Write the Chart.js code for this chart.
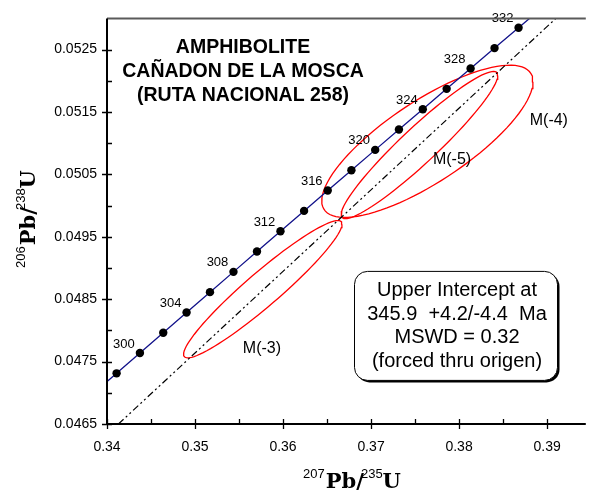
<!DOCTYPE html>
<html>
<head>
<meta charset="utf-8">
<script src="https://cdn.jsdelivr.net/npm/chart.js@4.4.0/dist/chart.umd.min.js"></script>
<style>
html, body { margin: 0; padding: 0; background: #fff; }
#wrap { width: 590px; height: 492px; }
</style>
</head>
<body>
<div id="wrap"><canvas id="concordia-chart" width="590" height="492"></canvas></div>
<script>
// 谐和曲线上的年龄点 (Ma)
const concordiaAges = [298, 300, 302, 304, 306, 308, 310, 312, 314, 316, 318, 320, 322, 324, 326, 328, 330, 332];
const concordiaX = [0.34109, 0.34374, 0.34639, 0.34904, 0.35170, 0.35437, 0.35704, 0.35971, 0.36239,
                    0.36508, 0.36777, 0.37047, 0.37317, 0.37588, 0.37859, 0.38131, 0.38403, 0.38676];
const concordiaY = [0.047312, 0.047637, 0.047963, 0.048288, 0.048613, 0.048938, 0.049264, 0.049589, 0.049915,
                    0.050241, 0.050567, 0.050893, 0.051219, 0.051545, 0.051871, 0.052198, 0.052524, 0.052851];
// 曲线两端 (296 Ma, 334 Ma)，只画线
const concordiaStart = [0.33845, 0.046988];
const concordiaEnd = [0.38950, 0.053178];
// 标注年龄
const labelAges = [300, 304, 308, 312, 316, 320, 324, 328, 332];

// 不一致线（过原点）
const discordiaX = [0.3413, 0.3910];
const discordiaY = [0.0465, 0.0530];

// 误差椭圆: 中心, 2σ, 相关系数
const ellipseNames = ['M(-3)', 'M(-4)', 'M(-5)'];
const ellipseX = [0.3577, 0.3764, 0.3755];
const ellipseSX = [0.0090, 0.0120, 0.0089];
const ellipseY = [0.04866, 0.05103, 0.05097];
const ellipseSY = [0.00110, 0.00122, 0.00118];
const ellipseRho = [0.947, 0.782, 0.945];
const ellipseLabelX = [0.3576, 0.3902, 0.3792];
const ellipseLabelY = [0.04771, 0.05137, 0.05074];

// 坐标轴
const xMin = 0.34, xMax = 0.3944;
const yMin = 0.0465, yMax = 0.0530;
const xTicks = [0.34, 0.35, 0.36, 0.37, 0.38, 0.39];
const xTickLabels = ['0.34', '0.35', '0.36', '0.37', '0.38', '0.39'];
const xMinorTicks = [0.345, 0.355, 0.365, 0.375, 0.385];
const yTicks = [0.0465, 0.0475, 0.0485, 0.0495, 0.0505, 0.0515, 0.0525];
const yTickLabels = ['0.0465', '0.0475', '0.0485', '0.0495', '0.0505', '0.0515', '0.0525'];
const yMinorTicks = [0.047, 0.048, 0.049, 0.050, 0.051, 0.052];

// 文字
const titleLines = ['AMPHIBOLITE', 'CAÑADON DE LA MOSCA', '(RUTA NACIONAL 258)'];
const boxLines = ['Upper Intercept at', '345.9  +4.2/-4.4  Ma', 'MSWD = 0.32', '(forced thru origen)'];

const SANS = '"Liberation Sans", Arial, Helvetica, sans-serif';
const SLAB = '"DejaVu Serif", "Courier New", serif';

// 椭圆轮廓点
function buildEllipse(i) {
    const pts = [];
    const n = 96;
    const k = Math.sqrt(1 - ellipseRho[i] * ellipseRho[i]);
    for (let j = 0; j <= n; j++) {
        const t = 2 * Math.PI * j / n;
        pts.push({
            x: ellipseX[i] + ellipseSX[i] * Math.cos(t),
            y: ellipseY[i] + ellipseSY[i] * (ellipseRho[i] * Math.cos(t) + k * Math.sin(t))
        });
    }
    return pts;
}

// 画上下标的轴标题
function drawAxisTitle(ctx, parts, x, y) {
    let w = 0;
    parts.forEach(p => { ctx.font = p.font; w += ctx.measureText(p.text).width + (p.dx || 0); });
    let cx = x - w / 2;
    parts.forEach(p => {
        ctx.font = p.font;
        ctx.fillText(p.text, cx, y + (p.dy || 0));
        cx += ctx.measureText(p.text).width + (p.dx || 0);
    });
}

function titleParts(a, b) {
    return [
        { text: a, font: '13px ' + SANS, dy: -10, dx: 1 },
        { text: 'Pb', font: 'bold 21px ' + SLAB, dx: 0 },
        { text: '/', font: 'bold 21px ' + SLAB, dx: -3 },
        { text: b, font: '13px ' + SANS, dy: -10 },
        { text: 'U', font: 'bold 21px ' + SLAB }
    ];
}

// 注释、边框、刻度
const decorPlugin = {
    id: 'decor',
    afterDraw(chart) {
        const ctx = chart.ctx;
        const xs = chart.scales.x, ys = chart.scales.y;
        const area = chart.chartArea;
        ctx.save();
        ctx.fillStyle = '#000';
        ctx.textAlign = 'center';
        ctx.textBaseline = 'middle';

        // 年龄标注
        ctx.font = '13px ' + SANS;
        labelAges.forEach(age => {
            const i = concordiaAges.indexOf(age);
            const px = xs.getPixelForValue(concordiaX[i]);
            const py = ys.getPixelForValue(concordiaY[i]);
            ctx.fillText(String(age), px - 16, py - 9);
        });

        // 椭圆名称
        ctx.font = '16px ' + SANS;
        ellipseNames.forEach((name, i) => {
            ctx.fillText(name, xs.getPixelForValue(ellipseLabelX[i]), ys.getPixelForValue(ellipseLabelY[i]));
        });

        // 标题
        ctx.font = 'bold 19.5px ' + SANS;
        titleLines.forEach((t, i) => {
            ctx.fillText(t, area.left + 136, area.top + 29 + i * 24);
        });

        // 结果框
        const bx = area.left + 247.5, by = area.top + 253, bw = 203, bh = 109, r = 13;
        ctx.fillStyle = '#000';
        ctx.beginPath();
        ctx.roundRect(bx + 2, by + 2, bw, bh, r);
        ctx.fill();
        ctx.fillStyle = '#fff';
        ctx.strokeStyle = '#000';
        ctx.lineWidth = 1;
        ctx.beginPath();
        ctx.roundRect(bx, by, bw, bh, r);
        ctx.fill();
        ctx.stroke();
        ctx.fillStyle = '#000';
        ctx.font = '20px ' + SANS;
        boxLines.forEach((t, i) => {
            ctx.fillText(t, bx + bw / 2 + 1, by + 19 + i * 23.7);
        });

        // 上边框
        ctx.strokeStyle = '#5a5a5a';
        ctx.lineWidth = 2;
        ctx.beginPath();
        ctx.moveTo(area.left, area.top);
        ctx.lineTo(area.right, area.top);
        ctx.stroke();

        // 坐标轴线
        ctx.strokeStyle = '#000';
        ctx.beginPath();
        ctx.moveTo(area.left, area.top);
        ctx.lineTo(area.left, area.bottom);
        ctx.lineTo(area.right, area.bottom);
        ctx.stroke();

        // 刻度线
        ctx.lineWidth = 1.3;
        ctx.beginPath();
        xTicks.forEach(v => {
            const px = Math.round(xs.getPixelForValue(v)) + 0.5;
            ctx.moveTo(px, area.bottom - 5);
            ctx.lineTo(px, area.bottom + 5);
        });
        xMinorTicks.forEach(v => {
            const px = Math.round(xs.getPixelForValue(v)) + 0.5;
            ctx.moveTo(px, area.bottom - 5);
            ctx.lineTo(px, area.bottom);
        });
        yTicks.forEach(v => {
            const py = Math.round(ys.getPixelForValue(v)) + 0.5;
            ctx.moveTo(area.left - 5, py);
            ctx.lineTo(area.left + 5, py);
        });
        yMinorTicks.forEach(v => {
            const py = Math.round(ys.getPixelForValue(v)) + 0.5;
            ctx.moveTo(area.left, py);
            ctx.lineTo(area.left + 5, py);
        });
        ctx.stroke();

        // 轴标题
        ctx.textAlign = 'left';
        ctx.textBaseline = 'alphabetic';
        drawAxisTitle(ctx, titleParts('207', '235'), 352, 488);
        ctx.translate(35, 219);
        ctx.rotate(-Math.PI / 2);
        drawAxisTitle(ctx, titleParts('206', '238'), 0, 0);
        ctx.restore();
    }
};

// 初始化图表
function initChart() {
    const ellipseSets = ellipseNames.map((name, i) => ({
        label: name,
        data: buildEllipse(i),
        showLine: true,
        borderColor: '#ff0000',
        borderWidth: 1.3,
        pointRadius: 0,
        tension: 0,
        order: 4
    }));

    const concordiaLine = [{ x: concordiaStart[0], y: concordiaStart[1] }]
        .concat(concordiaX.map((x, i) => ({ x: x, y: concordiaY[i] })))
        .concat([{ x: concordiaEnd[0], y: concordiaEnd[1] }]);

    const ctx = document.getElementById('concordia-chart').getContext('2d');
    new Chart(ctx, {
        type: 'scatter',
        data: {
            datasets: ellipseSets.concat([
                {
                    label: 'discordia',
                    data: discordiaX.map((x, i) => ({ x: x, y: discordiaY[i] })),
                    showLine: true,
                    borderColor: '#000',
                    borderWidth: 1.2,
                    borderDash: [7, 3, 2, 3, 2, 3],
                    pointRadius: 0,
                    order: 3
                },
                {
                    label: 'concordia',
                    data: concordiaLine,
                    showLine: true,
                    borderColor: '#12128a',
                    borderWidth: 1.3,
                    pointRadius: 0,
                    tension: 0,
                    order: 2
                },
                {
                    label: 'ages',
                    data: concordiaX.map((x, i) => ({ x: x, y: concordiaY[i] })),
                    showLine: false,
                    pointRadius: 4.2,
                    pointBackgroundColor: '#000',
                    pointBorderColor: '#000',
                    pointBorderWidth: 0,
                    order: 1
                }
            ])
        },
        options: {
            responsive: false,
            animation: false,
            layout: { padding: { top: 12, right: 0, left: 0, bottom: 0 } },
            plugins: {
                legend: { display: false },
                tooltip: { enabled: false }
            },
            scales: {
                x: {
                    type: 'linear',
                    min: xMin,
                    max: xMax,
                    grid: { display: false, drawTicks: false },
                    border: { display: false },
                    afterBuildTicks: s => { s.ticks = xTicks.map(v => ({ value: v })); },
                    afterFit: s => { s.height = 68; },
                    ticks: {
                        padding: 15,
                        color: '#000',
                        maxRotation: 0,
                        autoSkip: false,
                        font: { family: SANS, size: 14 },
                        callback: (v, i) => xTickLabels[i]
                    }
                },
                y: {
                    type: 'linear',
                    min: yMin,
                    max: yMax,
                    grid: { display: false, drawTicks: false },
                    border: { display: false },
                    afterBuildTicks: s => { s.ticks = yTicks.map(v => ({ value: v })); },
                    afterFit: s => { s.width = 107; },
                    ticks: {
                        padding: 10,
                        color: '#000',
                        autoSkip: false,
                        font: { family: SANS, size: 14 },
                        callback: (v, i) => yTickLabels[i]
                    }
                }
            }
        },
        plugins: [decorPlugin]
    });
}

initChart();
</script>
</body>
</html>
